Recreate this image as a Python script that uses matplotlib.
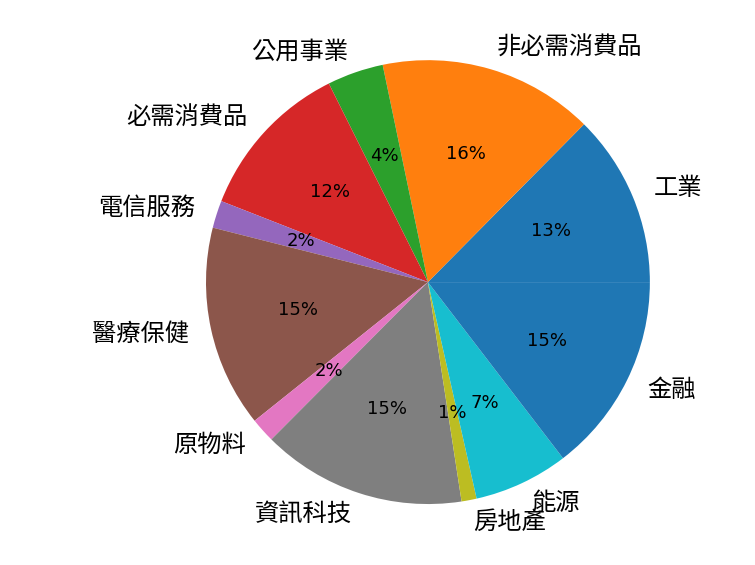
import matplotlib
matplotlib.use("Agg")
import matplotlib.pyplot as plt

# sector names, counter-clockwise from 3 o'clock
sectors = ['工業', '非必需消費品', '公用事業', '必需消費品', '電信服務', '醫療保健',
           '原物料', '資訊科技', '房地產', '能源', '金融']
# weights (percent)
weights = [12.6, 15.7, 4.1, 11.7, 2.0, 14.7, 1.8, 14.9, 1.1, 6.9, 14.6]

fig = plt.figure(figsize=(7.55, 5.65), dpi=100)
ax = fig.add_axes([0.1993, 0.0097, 0.735, 0.982])

wedges, texts, autotexts = ax.pie(weights, labels=sectors, autopct='%1.0f%%')

for t in texts:
    t.set_fontfamily(['Noto Sans CJK TC', 'DejaVu Sans'])
    t.set_fontsize(17.5)
for t in autotexts:
    t.set_fontfamily('DejaVu Sans')
    t.set_fontsize(13)

ax.set_xlim(-1.25, 1.25)
ax.set_ylim(-1.25, 1.25)
ax.set_aspect('equal')

fig.savefig('out.png', dpi=100)
